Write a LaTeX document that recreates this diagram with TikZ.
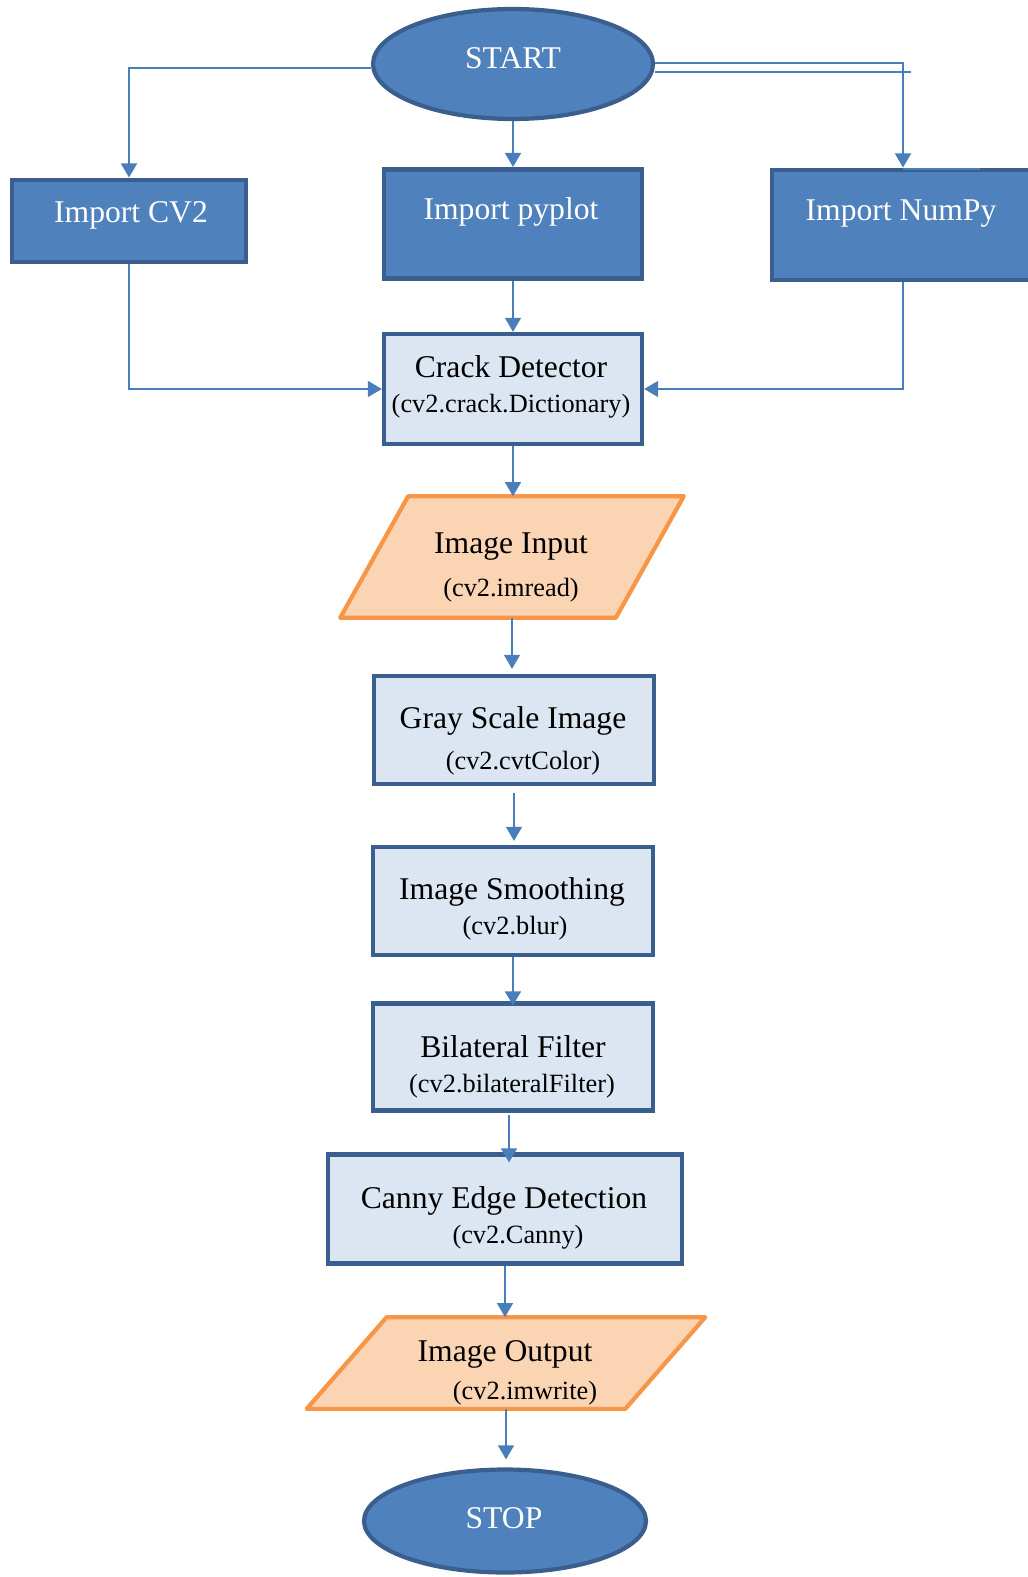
\documentclass[tikz,border=0pt]{standalone}
\usepackage{fontspec}
\setmainfont{Liberation Serif}
\usetikzlibrary{arrows.meta,shapes.geometric,calc}
\definecolor{bfill}{HTML}{4F81BD}
\definecolor{bdraw}{HTML}{3A5F8E}
\definecolor{lfill}{HTML}{DCE6F2}
\definecolor{ofill}{HTML}{FBD4B4}
\definecolor{odraw}{HTML}{F79646}
\definecolor{lcol}{HTML}{4A7EBB}
\begin{document}
\begin{tikzpicture}[x=0.02cm,y=-0.02cm,
  term/.style={ellipse, draw=bdraw, fill=bfill, line width=2.4pt, inner sep=0pt},
  darkbox/.style={rectangle, draw=bdraw, fill=bfill, line width=2.8pt, inner sep=0pt},
  lightbox/.style={rectangle, draw=bdraw, fill=lfill, line width=2.4pt, inner sep=0pt},
  ioshape/.style={draw=odraw, fill=ofill, line width=2.4pt, line join=round},
  iobox/.style={rectangle, draw=none, inner sep=0pt},
  wtxt/.style={text=white, font=\fontsize{18}{20}\selectfont, inner sep=0pt},
  btxt/.style={text=black, font=\fontsize{18}{20}\selectfont, inner sep=0pt},
  stxt/.style={text=black, font=\fontsize{15}{17}\selectfont, inner sep=0pt},
  conn/.style={draw=lcol, line width=1.2pt, -{Triangle[length=8pt,width=9pt]}},
  plain/.style={draw=lcol, line width=1.2pt}
]
\useasboundingbox (0,0) rectangle (1027,1577);

% shapes
\node[term, minimum width=5.6cm, minimum height=2.2cm] (start) at (513,64) {};
\node[darkbox, minimum width=4.68cm, minimum height=1.64cm] (cv2) at (129,221) {};
\node[darkbox, minimum width=5.16cm, minimum height=2.18cm] (pyplot) at (513,224) {};
\node[darkbox, minimum width=5.24cm, minimum height=2.2cm] (numpy) at (903,225) {};
\node[lightbox, minimum width=5.16cm, minimum height=2.2cm] (crack) at (513,389) {};
\node[iobox, minimum width=5.5cm, minimum height=2.42cm] (in) at (512,557) {};
\draw[ioshape] ($(in.north west)+(34,0)$) -- ($(in.north east)+(34,0)$)
  -- ($(in.south east)+(-34,0)$) -- ($(in.south west)+(-34,0)$) -- cycle;
\node[lightbox, minimum width=5.6cm, minimum height=2.16cm] (gray) at (514,730) {};
\node[lightbox, minimum width=5.6cm, minimum height=2.16cm] (smooth) at (513,901) {};
\node[lightbox, minimum width=5.6cm, minimum height=2.14cm] (bil) at (513,1057) {};
\node[lightbox, minimum width=7.08cm, minimum height=2.18cm] (canny) at (505,1209) {};
\node[iobox, minimum width=6.36cm, minimum height=1.82cm] (out) at (506,1363) {};
\draw[ioshape] ($(out.north west)+(40,0)$) -- ($(out.north east)+(40,0)$)
  -- ($(out.south east)+(-40,0)$) -- ($(out.south west)+(-40,0)$) -- cycle;
\node[term, minimum width=5.64cm, minimum height=2.06cm] (stop) at (505,1521) {};

% texts
\node[wtxt] (startT) at (513,58) {START};
\node[wtxt] (cv2T) at (131,215) {Import CV2};
\node[wtxt] (pyplotT) at (511,212) {Import pyplot};
\node[wtxt] (numpyT) at (901,214) {Import NumPy};
\node[btxt] (crackT) at (511,367) {Crack Detector};
\node[stxt] (crackS) at (511,406) {(cv2.crack.Dictionary)};
\node[btxt] (inT) at (511,547) {Image Input};
\node[stxt] (inS) at (511,590) {(cv2.imread)};
\node[btxt] (grayT) at (513,721) {Gray Scale Image};
\node[stxt] (grayS) at (523,763) {(cv2.cvtColor)};
\node[btxt] (smoothT) at (512,892) {Image Smoothing};
\node[stxt] (smoothS) at (515,928) {(cv2.blur)};
\node[btxt] (bilT) at (513,1047) {Bilateral Filter};
\node[stxt] (bilS) at (512,1086) {(cv2.bilateralFilter)};
\node[btxt] (cannyT) at (504,1201) {Canny Edge Detection};
\node[stxt] (cannyS) at (518,1237) {(cv2.Canny)};
\node[btxt] (outT) at (505,1354) {Image Output};
\node[stxt] (outS) at (525,1393) {(cv2.imwrite)};
\node[wtxt] (stopT) at (504,1518) {STOP};

% connectors
\draw[conn] ([yshift=-0.08cm]start.west) -| (cv2.north);
\draw[conn] (start.south) -- (pyplot.north);
\draw[conn] ([yshift=0.02cm]start.east) -| (numpy.north);
\coordinate (dblend) at (911,72);
\draw[plain] (start.east |- dblend) -- (dblend);
\coordinate (numtop) at (980,169);
\draw[plain] (numpy.north |- numtop) -- (numtop);
\draw[conn] (cv2.south) |- (crack.west);
\draw[conn] (numpy.south) |- (crack.east);
\draw[conn] (pyplot.south) -- (crack.north);
\draw[conn] (crack.south) -- (crack.south |- in.north);
\draw[conn, shorten >=0.1cm] (in.south) -- (in.south |- gray.north);
\draw[conn, shorten <=0.14cm, shorten >=0.08cm] (gray.south) -- (gray.south |- smooth.north);
\draw[conn, shorten >=-0.08cm] (smooth.south) -- (smooth.south |- bil.north);
\draw[conn, shorten <=0.04cm, shorten >=-0.2cm] ([xshift=-0.08cm]bil.south) -- ([xshift=-0.08cm]bil.south |- canny.north);
\draw[conn] (canny.south) -- (canny.south |- out.north);
\draw[conn, shorten >=0.16cm] (out.south) -- (out.south |- stop.north);
\end{tikzpicture}
\end{document}
